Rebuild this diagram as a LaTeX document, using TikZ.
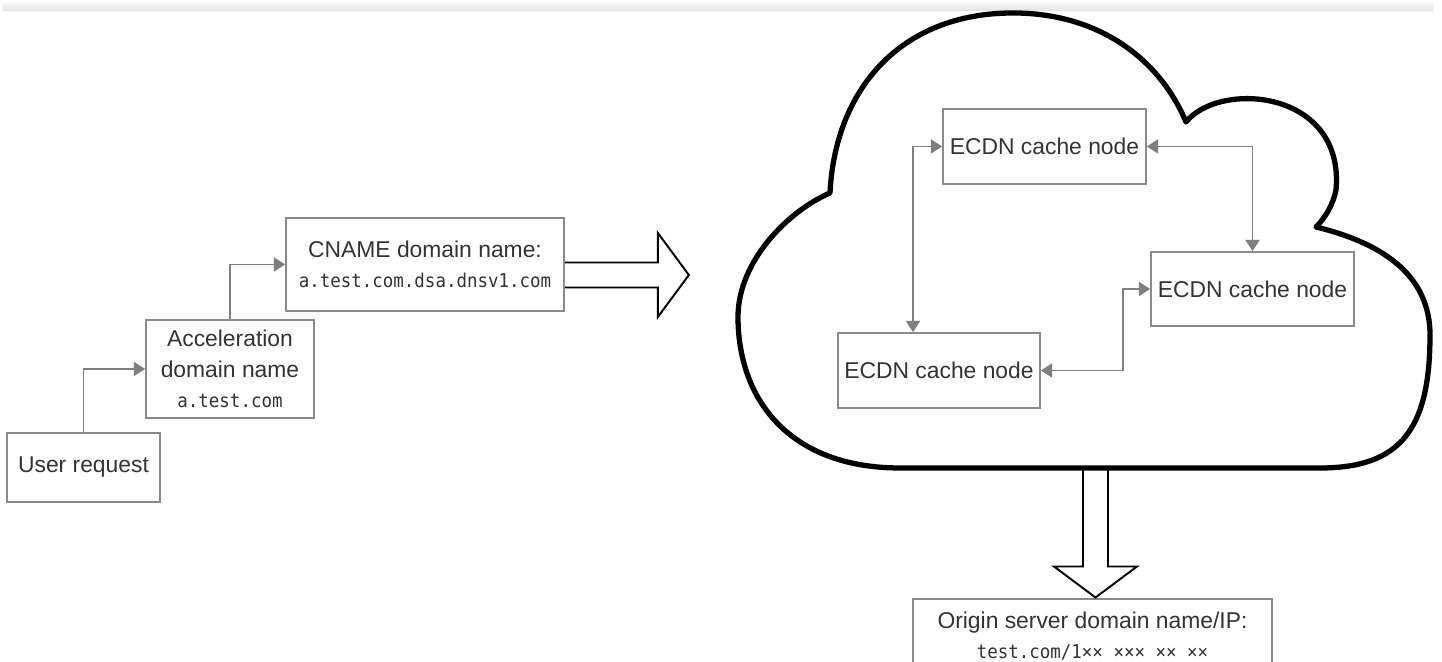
\documentclass[tikz,border=0pt]{standalone}
\usepackage{fontspec}
\setmainfont{Liberation Sans}
\newfontfamily\monofont[FakeStretch=0.92]{DejaVu Sans Mono}
\usetikzlibrary{arrows.meta,calc}
\definecolor{boxgray}{HTML}{8A8A8A}
\definecolor{linegray}{HTML}{7F7F7F}
\definecolor{txt}{HTML}{333333}
\newcommand\monoline[1]{{\monofont\fontsize{5.4pt}{8pt}\selectfont #1}}
\begin{document}
\begin{tikzpicture}[x=0.01cm,y=-0.01cm,
  box/.style={draw=boxgray, line width=0.45pt, fill=white, inner sep=0pt, text=txt, align=center,
    font=\fontsize{6.5pt}{8.6pt}\selectfont},
  conn/.style={draw=linegray, line width=0.45pt, -{Triangle[length=3.2pt,width=4pt]}},
  conn2/.style={draw=linegray, line width=0.45pt,
    {Triangle[length=3.2pt,width=4pt]}-{Triangle[length=3.2pt,width=4pt]}},
  hollow/.style={draw=black, line width=0.55pt, fill=white, line join=miter},
  cloudline/.style={draw=black, line width=1.5pt, fill=white, line join=round}]
\useasboundingbox (0,0) rectangle (1442,662);
\clip (0,0) rectangle (1442,662);
\fill[white] (0,0) rectangle (1442,662);
\shade[top color=white, bottom color=black!11] (3,0) rectangle (1433,10.5);

% left chain
\node[box, minimum width=1.53cm, minimum height=0.69cm] (user) at (83.5,467.5) {User request};
\node[box, minimum width=1.68cm, minimum height=0.98cm] (accel) at (230,369)
  {Acceleration\\domain name\\\monoline{a.test.com}};
\node[box, minimum width=2.78cm, minimum height=0.93cm] (cname) at (425,264.5)
  {CNAME domain name:\\\monoline{a.test.com.dsa.dnsv1.com}};
\draw[conn] (user.north) |- (accel.west);
\draw[conn] (accel.north) |- (cname.west);

% hollow arrow to the cloud
\coordinate (ra) at ($(cname.east)+(0,10.5)$);
\draw[hollow] ($(ra)+(0,-12.5)$) -- ++(93,0) -- ++(0,-29.5) -- ++(31,42) -- ++(-31,42)
  -- ++(0,-29.5) -- ++(-93,0);

% hollow arrow down to the origin
\node[box, minimum width=3.59cm, minimum height=0.74cm] (origin) at (1092.5,636)
  {Origin server domain name/IP:\\\monoline{test.com/1×× ××× ×× ××}};
\coordinate (cb) at (1095.5,468.5);
\draw[hollow] ($(cb)+(-12.5,0)$) -- ++(0,98) -- ++(-29,0) -- ++(41.5,31) -- ++(41.5,-31)
  -- ++(-29,0) -- ++(0,-98);

% cloud
\draw[cloudline] (830,193)
  .. controls (835,90) and (900,13) .. (1013,13)
  .. controls (1100,13) and (1160,60) .. (1186,122)
  .. controls (1220,80) and (1345,90) .. (1336,190)
  .. controls (1333,205) and (1325,218) .. (1316,227)
  .. controls (1390,245) and (1430,280) .. (1430,335)
  .. controls (1430,430) and (1400,468) .. (1320,468)
  -- (900,468)
  .. controls (790,468) and (738,400) .. (738,317)
  .. controls (738,260) and (790,210) .. (830,193) -- cycle;

% cache nodes
\node[box, minimum width=2.03cm, minimum height=0.75cm] (ecdn1) at (1044.5,146.5) {ECDN cache node};
\node[box, minimum width=2.03cm, minimum height=0.74cm] (ecdn2) at (1252.5,289) {ECDN cache node};
\node[box, minimum width=2.02cm, minimum height=0.75cm] (ecdn3) at (939,370.5) {ECDN cache node};
\draw[conn2] (ecdn1.west) -| ($(ecdn3.north)+(-26,0)$);
\draw[conn2] (ecdn1.east) -| (ecdn2.north);
\draw[conn2] (ecdn3.east) -- ++(82,0) |- (ecdn2.west);
\end{tikzpicture}
\end{document}
